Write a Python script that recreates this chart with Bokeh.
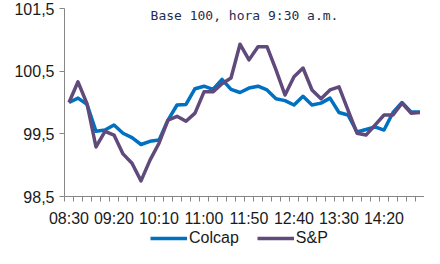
from bokeh.plotting import figure
from bokeh.layouts import column
from bokeh.models import (FixedTicker, CustomJSTickFormatter, Legend, LegendItem,
                          Label, Range1d, ColumnDataSource)
from bokeh.embed import file_html
from bokeh.resources import INLINE

# ---- data ----
times = ["08:30", "08:40", "08:50", "09:00", "09:10", "09:20", "09:30", "09:40",
         "09:50", "10:00", "10:10", "10:20", "10:30", "10:40", "10:50", "11:00",
         "11:10", "11:20", "11:30", "11:40", "11:50", "12:00", "12:10", "12:20",
         "12:30", "12:40", "12:50", "13:00", "13:10", "13:20", "13:30", "13:40",
         "13:50", "14:00", "14:10", "14:20", "14:30", "14:40", "14:50", "15:00"]
colcap = [100.00, 100.07, 99.97, 99.54, 99.56, 99.64, 99.51, 99.44, 99.33, 99.38,
          99.40, 99.72, 99.96, 99.97, 100.22, 100.26, 100.21, 100.37, 100.21, 100.16,
          100.23, 100.26, 100.20, 100.06, 100.03, 99.96, 100.10, 99.96, 99.99, 100.07,
          99.84, 99.80, 99.53, 99.57, 99.61, 99.56, 99.84, 100.00, 99.85, 99.85]
sp = [100.00, 100.33, 99.98, 99.29, 99.54, 99.48, 99.18, 99.03, 98.75, 99.08,
      99.35, 99.72, 99.78, 99.70, 99.83, 100.17, 100.17, 100.30, 100.39, 100.93,
      100.68, 100.89, 100.89, 100.52, 100.12, 100.41, 100.55, 100.20, 100.06, 100.20,
      100.25, 99.88, 99.51, 99.48, 99.64, 99.80, 99.80, 99.99, 99.83, 99.84]
x_tick_labels = ["08:30", "09:20", "10:10", "11:00", "11:50", "12:40", "13:30", "14:20"]
y_ticks = [98.5, 99.5, 100.5, 101.5]
y_tick_labels = ["98,5", "99,5", "100,5", "101,5"]
series_names = ["Colcap", "S&P"]
series_colors = ["#0070C0", "#604A7B"]
subtitle = "Base 100, hora 9:30 a.m."

idx = list(range(len(times)))
src = ColumnDataSource(dict(x=idx, t=times, colcap=colcap, sp=sp))

FONT = "Liberation Sans"
AXIS_COLOR = "#868686"
TEXT_COLOR = "#1a1a1a"
LW = 3.5

p = figure(frame_width=360, frame_height=188, output_backend="svg", toolbar_location=None,
           x_range=Range1d(-0.5, len(times) - 0.5), y_range=Range1d(98.5, 101.5),
           min_border_left=64, min_border_right=0, min_border_top=8, min_border_bottom=32)
p.xgrid.visible = False
p.ygrid.visible = False
p.outline_line_color = None
p.background_fill_color = "white"
p.border_fill_color = "white"

p.line("x", "colcap", source=src, line_color=series_colors[0], line_width=LW, line_join="round")
p.line("x", "sp", source=src, line_color=series_colors[1], line_width=LW, line_join="round")

# x axis (category style: ticks between categories)
x_tick_pos = [times.index(l) for l in x_tick_labels]
xa = p.xaxis[0]
xa.ticker = FixedTicker(ticks=x_tick_pos, minor_ticks=[i - 0.5 for i in range(len(times) + 1)])
xa.formatter = CustomJSTickFormatter(args=dict(pos=x_tick_pos, labels=x_tick_labels),
                                     code="const i = pos.indexOf(Math.round(tick)); return i >= 0 ? labels[i] : '';")
xa.major_tick_out = 0
xa.major_tick_in = 0
xa.minor_tick_out = 5
xa.minor_tick_in = 0
xa.axis_line_color = AXIS_COLOR
xa.minor_tick_line_color = AXIS_COLOR
xa.major_label_text_font = FONT
xa.major_label_text_font_size = "16px"
xa.major_label_text_color = TEXT_COLOR
xa.major_label_standoff = 8

ya = p.yaxis[0]
ya.ticker = FixedTicker(ticks=y_ticks, minor_ticks=[])
ya.formatter = CustomJSTickFormatter(args=dict(pos=y_ticks, labels=y_tick_labels),
                                     code="for (let i = 0; i < pos.length; i++) { if (Math.abs(pos[i] - tick) < 1e-6) return labels[i]; } return '';")
ya.major_tick_out = 5
ya.major_tick_in = 0
ya.axis_line_color = AXIS_COLOR
ya.major_tick_line_color = AXIS_COLOR
ya.major_label_text_font = FONT
ya.major_label_text_font_size = "16px"
ya.major_label_text_color = TEXT_COLOR
ya.major_label_standoff = 5

p.add_layout(Label(x=19.5, y=101.39, text=subtitle, text_align="center",
                   text_baseline="middle", text_font="DejaVu Sans Mono",
                   text_font_size="13px", text_color="#1F2D50"))

# ---- legend strip (separate small figure) ----
leg = figure(width=424, height=20, output_backend="svg", toolbar_location=None,
             x_range=Range1d(0, 1), y_range=Range1d(0, 1),
             x_axis_type=None, y_axis_type=None,
             min_border_left=0, min_border_right=0, min_border_top=0, min_border_bottom=0)
leg.grid.visible = False
leg.outline_line_color = None
leg.background_fill_color = "white"
leg.border_fill_color = "white"
items = []
for name, col in zip(series_names, series_colors):
    # placeholder renderer (outside the visible range) only to give the legend its swatch
    r = leg.line(x=[-5, -4], y=[-5, -4], line_color=col, line_width=LW)
    items.append(LegendItem(label=name, renderers=[r]))
legend = Legend(items=items, orientation="horizontal", location=(84, 0),
                glyph_width=37, glyph_height=16, label_height=16, label_standoff=2,
                spacing=18, padding=2, margin=0, border_line_alpha=0,
                background_fill_alpha=0, label_text_font=FONT,
                label_text_font_size="16px", label_text_color=TEXT_COLOR)
leg.add_layout(legend, "center")

layout = column(p, leg, spacing=0)
open("out.html", "w").write(file_html(layout, INLINE))
